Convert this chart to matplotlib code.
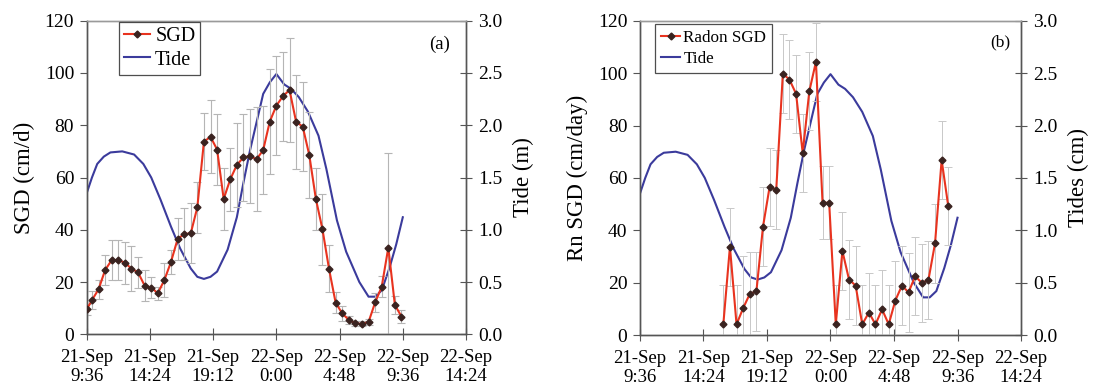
import matplotlib
matplotlib.use("Agg")
import matplotlib.pyplot as plt

plt.rcParams['font.family'] = ['Liberation Serif', 'DejaVu Serif']

# ---- data (hours since 21-Sep 0:00) ----
sgd_time = [9.6, 10.0, 10.5, 11.0, 11.5, 12.0, 12.5, 13.0, 13.5, 14.0, 14.5, 15.0,
            15.5, 16.0, 16.5, 17.0, 17.5, 18.0, 18.5, 19.0, 19.5, 20.0, 20.5, 21.0,
            21.5, 22.0, 22.5, 23.0, 23.5, 24.0, 24.5, 25.0, 25.5, 26.0, 26.5, 27.0,
            27.5, 28.0, 28.5, 29.0, 29.5, 30.0, 30.5, 31.0, 31.5, 32.0, 32.5, 33.0, 33.5]
sgd_value = [9.5, 13.1, 17.2, 24.6, 28.4, 28.4, 27.4, 25.1, 23.7, 18.6, 17.9, 15.7,
             20.8, 27.7, 36.4, 38.4, 38.6, 48.6, 73.7, 75.6, 70.7, 51.8, 59.3, 64.8,
             67.7, 68.2, 67.0, 70.5, 81.4, 87.5, 91.1, 93.5, 81.3, 79.5, 68.6, 51.8,
             40.2, 25.0, 12.1, 8.0, 5.5, 4.2, 4.0, 4.7, 12.2, 18.2, 33.2, 11.2, 6.8]
sgd_err = [2.0, 3.6, 3.6, 5.8, 7.7, 7.7, 8.0, 8.7, 6.0, 6.0, 4.0, 2.5,
           6.4, 4.6, 8.0, 9.8, 11.5, 9.8, 11.0, 14.0, 13.5, 12.0, 12.0, 16.0,
           16.5, 18.0, 20.0, 17.0, 20.0, 19.0, 17.0, 20.0, 18.0, 17.0, 16.6, 12.0,
           13.5, 9.0, 4.0, 3.0, 1.5, 1.0, 1.0, 1.0, 3.5, 4.0, 36.0, 3.5, 2.5]

rn_time = [15.9, 16.4, 16.9, 17.4, 17.9, 18.4, 18.9, 19.4, 19.9, 20.4, 20.9, 21.4,
           21.9, 22.4, 22.9, 23.4, 23.9, 24.4, 24.9, 25.4, 25.9, 26.4, 26.9, 27.4,
           27.9, 28.4, 28.9, 29.4, 29.9, 30.4, 30.9, 31.4, 31.9, 32.4, 32.9]
rn_value = [4.1, 33.7, 4.1, 10.3, 15.7, 16.7, 41.4, 56.6, 55.5, 99.8, 97.5, 92.1,
            69.5, 93.1, 104.3, 50.5, 50.5, 4.1, 32.1, 21.2, 18.9, 4.1, 8.6, 4.1,
            9.8, 4.1, 13.2, 18.9, 16.3, 22.5, 19.9, 21.0, 35.0, 66.8, 49.2]
rn_err = [15, 15, 15, 20, 16, 15, 15, 15, 15, 15, 15, 15,
          15, 15, 15, 14, 14, 15, 15, 15, 15, 15, 15, 15,
          15, 15, 15, 15, 15, 15, 15, 15, 15, 15, 15]

tide_time = [9.6, 10.0, 10.4, 10.9, 11.4, 12.3, 13.2, 13.9, 14.5, 15.2, 16.0, 16.7,
             17.5, 18.0, 18.5, 19.0, 19.5, 20.3, 21.0, 21.5, 22.0, 23.0, 23.5, 24.0,
             24.6, 25.1, 25.7, 26.4, 27.2, 27.8, 28.6, 29.3, 30.3, 31.0, 31.5, 32.0,
             32.6, 33.1, 33.6]
tide_m = [1.35, 1.50, 1.63, 1.70, 1.74, 1.75, 1.72, 1.63, 1.50, 1.29, 1.03, 0.82,
          0.63, 0.55, 0.53, 0.55, 0.60, 0.81, 1.12, 1.45, 1.76, 2.30, 2.41, 2.49,
          2.39, 2.35, 2.27, 2.13, 1.90, 1.58, 1.09, 0.79, 0.50, 0.36, 0.36, 0.42,
          0.64, 0.86, 1.12]

xtick_pos = [9.6, 14.4, 19.2, 24.0, 28.8, 33.6, 38.4]
xtick_lab = ["21-Sep\n9:36", "21-Sep\n14:24", "21-Sep\n19:12", "22-Sep\n0:00",
             "22-Sep\n4:48", "22-Sep\n9:36", "22-Sep\n14:24"]
left_ticks = [0, 20, 40, 60, 80, 100, 120]
right_ticks = [0.0, 0.5, 1.0, 1.5, 2.0, 2.5, 3.0]

RED = '#e8331f'
MARK = '#3a2320'
BLUE = '#3b3b9c'
GREY = '#b5b5b5'
SPINE = '#555555'
FS = 13.5

fig = plt.figure(figsize=(10.96, 3.91), dpi=100)
axA = fig.add_axes([0.0791, 0.145, 0.3461, 0.802])
axB = fig.add_axes([0.5839, 0.143, 0.3477, 0.804])


def style(ax, twin, ylabel, rlabel):
    ax.set_xlim(9.6, 38.4)
    ax.set_ylim(0, 120)
    ax.set_xticks(xtick_pos)
    ax.set_xticklabels(xtick_lab, fontsize=FS, linespacing=1.15)
    ax.set_yticks(left_ticks)
    ax.set_yticklabels([str(v) for v in left_ticks], fontsize=FS + 0.5)
    ax.tick_params(axis='x', direction='inout', length=9, color=SPINE, pad=6)
    ax.tick_params(axis='y', direction='out', length=5, color=SPINE, pad=4)
    ax.set_ylabel(ylabel, fontsize=16.5, labelpad=7)
    twin.set_ylim(0, 3.0)
    twin.set_yticks(right_ticks)
    twin.set_yticklabels(["%.1f" % v for v in right_ticks], fontsize=FS + 0.5)
    twin.tick_params(axis='y', direction='inout', length=9, color=SPINE, pad=4)
    twin.set_ylabel(rlabel, fontsize=16.5, labelpad=8)
    for a in (ax, twin):
        for s in a.spines.values():
            s.set_color(SPINE)
            s.set_linewidth(1.0)
        a.spines['top'].set_color('#9a9a9a')
    ax.set_zorder(twin.get_zorder() + 1)
    ax.patch.set_visible(False)


# ---- panel (a) ----
twA = axA.twinx()
axA.errorbar(sgd_time, sgd_value, yerr=sgd_err, fmt='none', ecolor=GREY,
             elinewidth=0.8, capsize=3, capthick=0.8, zorder=1)
la, = axA.plot(sgd_time, sgd_value, color=RED, lw=1.5, marker='D', ms=3.5,
               mfc=MARK, mec=MARK, zorder=3, label='SGD')
ta, = twA.plot(tide_time, tide_m, color=BLUE, lw=1.5, label='Tide')
style(axA, twA, 'SGD (cm/d)', 'Tide (m)')
axA.text(0.93, 0.925, '(a)', transform=axA.transAxes, fontsize=FS, ha='center', va='center')
legA = axA.legend([la, ta], ['SGD', 'Tide'], loc='upper left', bbox_to_anchor=(0.085, 0.995),
                  fontsize=FS + 1, frameon=True, fancybox=False, edgecolor='#222222',
                  handlelength=1.3, handletextpad=0.25, borderpad=0.25, labelspacing=0.2,
                  borderaxespad=0)
legA.get_frame().set_linewidth(0.9)

# ---- panel (b) ----
twB = axB.twinx()
axB.errorbar(rn_time, rn_value, yerr=rn_err, fmt='none', ecolor='#c8c8c8',
             elinewidth=0.7, capsize=3, capthick=0.7, zorder=1)
lb, = axB.plot(rn_time, rn_value, color=RED, lw=1.5, marker='D', ms=3.5,
               mfc=MARK, mec=MARK, zorder=3, label='Radon SGD')
tb, = twB.plot(tide_time, tide_m, color=BLUE, lw=1.5, label='Tide')
style(axB, twB, 'Rn SGD (cm/day)', 'Tides (cm)')
axB.text(0.945, 0.93, '(b)', transform=axB.transAxes, fontsize=FS - 1, ha='center', va='center')
legB = axB.legend([lb, tb], ['Radon SGD', 'Tide'], loc='upper left', bbox_to_anchor=(0.04, 0.99),
                  fontsize=12.3, frameon=True, fancybox=False, edgecolor='#222222',
                  handlelength=1.1, handletextpad=0.2, borderpad=0.35, labelspacing=0.3,
                  borderaxespad=0)
legB.get_frame().set_linewidth(0.9)

fig.savefig('out.png', dpi=100)
